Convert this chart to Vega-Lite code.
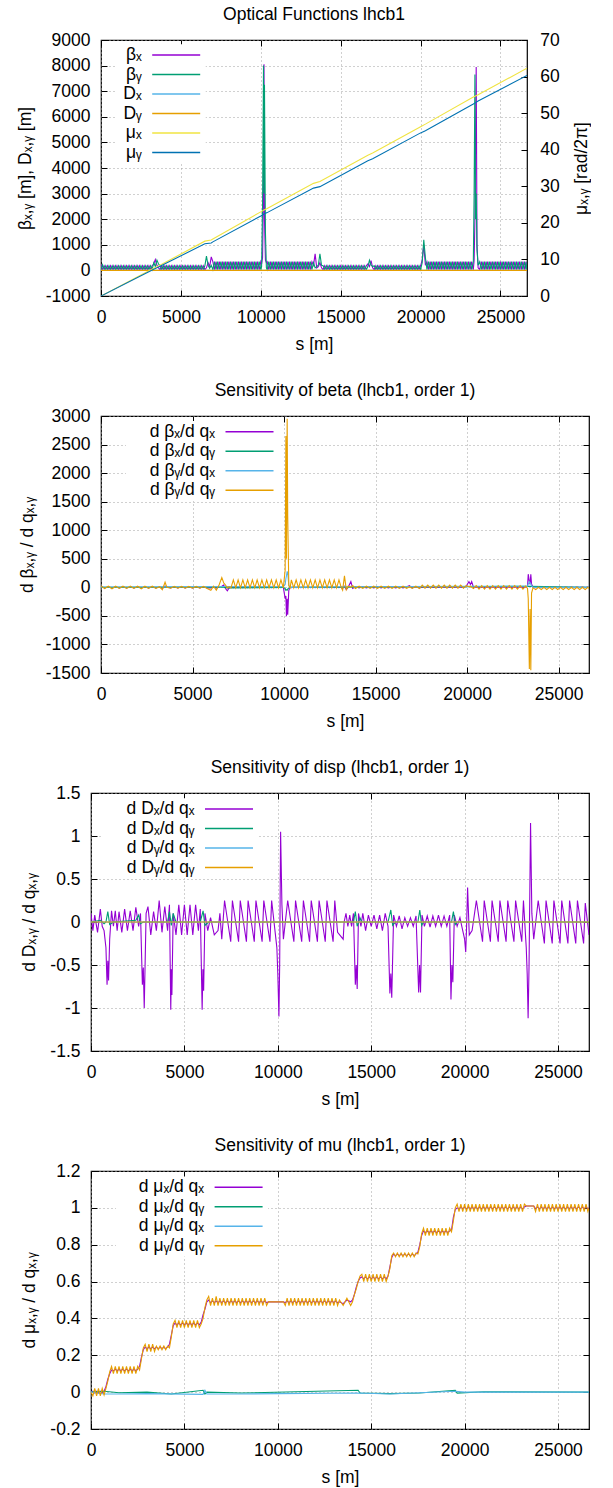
{
"$schema": "https://vega.github.io/schema/vega-lite/v6.json",
"background": "white",
"padding": {"left": 11, "top": 4, "right": 0, "bottom": 0},
"spacing": 26,
"config": {
  "font": "Liberation Sans",
  "view": {"stroke": "black", "strokeWidth": 1.2},
  "title": {"font": "Liberation Sans", "fontSize": 17.5, "fontWeight": "normal", "color": "#000", "frame": "group", "anchor": "middle", "offset": 8, "baseline": "alphabetic"},
  "axis": {"labelFont": "Liberation Sans", "labelFontSize": 17.5, "labelColor": "#000", "titleFont": "Liberation Sans", "titleFontSize": 17.5, "titleFontWeight": "normal", "titleColor": "#000", "domain": false, "ticks": true, "tickColor": "#000", "tickSize": -6, "tickWidth": 1, "labelPadding": 17, "grid": true, "gridColor": "#a0a0a0", "gridDash": [1, 3], "gridWidth": 1, "labelFlush": false, "labelOverlap": false, "labelExpr": "'' + datum.value"},
  "axisX": {"labelPadding": 18.4, "titlePadding": 10},
  "axisY": {"titlePadding": 11},
  "legend": {"title": null, "orient": "none", "symbolType": "M-8,0H8", "symbolSize": 36, "symbolStrokeWidth": 1.5, "labelAlign": "right", "labelOffset": -43.25, "labelFontSize": 17.5, "labelColor": "#000", "labelFont": "Liberation Sans", "fillColor": "white", "padding": 2, "rowPadding": 0.5, "labelLimit": 300}
},
"datasets": {
"p1b": [
{"s":0,"bx":230,"by":40,"dx":0,"dy":0},{"s":100,"bx":40,"by":220},{"s":200,"bx":180,"by":30},{"s":300,"bx":30,"by":180},{"s":400,"bx":180,"by":30},{"s":500,"bx":30,"by":180},{"s":600,"bx":180,"by":30},{"s":700,"bx":30,"by":180},{"s":800,"bx":180,"by":30},{"s":900,"bx":30,"by":180},{"s":1000,"bx":180,"by":30},{"s":1100,"bx":30,"by":180},{"s":1200,"bx":180,"by":30},{"s":1300,"bx":30,"by":180},{"s":1400,"bx":180,"by":30},{"s":1500,"bx":30,"by":180},{"s":1600,"bx":180,"by":30},{"s":1700,"bx":30,"by":180},{"s":1800,"bx":180,"by":30},{"s":1900,"bx":30,"by":180},{"s":2000,"bx":180,"by":30},{"s":2100,"bx":30,"by":180},{"s":2200,"bx":180,"by":30},{"s":2300,"bx":30,"by":180},{"s":2400,"bx":180,"by":30},{"s":2500,"bx":30,"by":180},{"s":2600,"bx":180,"by":30},{"s":2700,"bx":30,"by":180},{"s":2800,"bx":180,"by":30},{"s":2900,"bx":30,"by":180},{"s":3000,"bx":180,"by":30},{"s":3100,"bx":30,"by":180},{"s":3200,"bx":180,"by":30},
{"s":3300,"bx":250,"by":300},{"s":3400,"bx":420,"by":150},{"s":3500,"bx":200,"by":400},{"s":3600,"bx":100,"by":250},
{"s":3700,"bx":30,"by":180},{"s":3800,"bx":180,"by":30},{"s":3900,"bx":30,"by":180},{"s":4000,"bx":180,"by":30},{"s":4100,"bx":30,"by":180},{"s":4200,"bx":180,"by":30},{"s":4300,"bx":30,"by":180},{"s":4400,"bx":180,"by":30},{"s":4500,"bx":30,"by":180},{"s":4600,"bx":180,"by":30},{"s":4700,"bx":30,"by":180},{"s":4800,"bx":180,"by":30},{"s":4900,"bx":30,"by":180},{"s":5000,"bx":180,"by":30},{"s":5100,"bx":30,"by":180},{"s":5200,"bx":180,"by":30},{"s":5300,"bx":30,"by":180},{"s":5400,"bx":180,"by":30},{"s":5500,"bx":30,"by":180},{"s":5600,"bx":180,"by":30},{"s":5700,"bx":30,"by":180},{"s":5800,"bx":180,"by":30},{"s":5900,"bx":30,"by":180},{"s":6000,"bx":180,"by":30},{"s":6100,"bx":30,"by":180},{"s":6200,"bx":180,"by":30},{"s":6300,"bx":30,"by":180},{"s":6400,"bx":180,"by":30},{"s":6500,"bx":30,"by":180},
{"s":6600,"bx":100,"by":560},{"s":6700,"bx":300,"by":200},{"s":6800,"bx":150,"by":80},{"s":6900,"bx":530,"by":200},
{"s":7000,"bx":340,"by":30},{"s":7100,"bx":30,"by":340},{"s":7200,"bx":340,"by":30},{"s":7300,"bx":30,"by":340},{"s":7400,"bx":340,"by":30},{"s":7500,"bx":30,"by":340},{"s":7600,"bx":340,"by":30},{"s":7700,"bx":30,"by":340},{"s":7800,"bx":340,"by":30},{"s":7900,"bx":30,"by":340},{"s":8000,"bx":340,"by":30},{"s":8100,"bx":30,"by":340},{"s":8200,"bx":340,"by":30},{"s":8300,"bx":30,"by":340},{"s":8400,"bx":340,"by":30},{"s":8500,"bx":30,"by":340},{"s":8600,"bx":340,"by":30},{"s":8700,"bx":30,"by":340},{"s":8800,"bx":340,"by":30},{"s":8900,"bx":30,"by":340},{"s":9000,"bx":340,"by":30},{"s":9100,"bx":30,"by":340},{"s":9200,"bx":340,"by":30},{"s":9300,"bx":30,"by":340},{"s":9400,"bx":340,"by":30},{"s":9500,"bx":30,"by":340},{"s":9600,"bx":340,"by":30},{"s":9700,"bx":30,"by":340},{"s":9800,"bx":340,"by":30},{"s":9900,"bx":30,"by":340},{"s":10000,"bx":340,"by":30},
{"s":10050,"bx":250,"by":150},{"s":10110,"bx":500,"by":2500},{"s":10170,"bx":3000,"by":8000},{"s":10200,"bx":8050,"by":3000},{"s":10230,"bx":2000,"by":7250},{"s":10290,"bx":400,"by":1500},{"s":10350,"bx":300,"by":100},
{"s":10400,"bx":340,"by":30},{"s":10500,"bx":30,"by":340},{"s":10600,"bx":340,"by":30},{"s":10700,"bx":30,"by":340},{"s":10800,"bx":340,"by":30},{"s":10900,"bx":30,"by":340},{"s":11000,"bx":340,"by":30},{"s":11100,"bx":30,"by":340},{"s":11200,"bx":340,"by":30},{"s":11300,"bx":30,"by":340},{"s":11400,"bx":340,"by":30},{"s":11500,"bx":30,"by":340},{"s":11600,"bx":340,"by":30},{"s":11700,"bx":30,"by":340},{"s":11800,"bx":340,"by":30},{"s":11900,"bx":30,"by":340},{"s":12000,"bx":340,"by":30},{"s":12100,"bx":30,"by":340},{"s":12200,"bx":340,"by":30},{"s":12300,"bx":30,"by":340},{"s":12400,"bx":340,"by":30},{"s":12500,"bx":30,"by":340},{"s":12600,"bx":340,"by":30},{"s":12700,"bx":30,"by":340},{"s":12800,"bx":340,"by":30},{"s":12900,"bx":30,"by":340},{"s":13000,"bx":340,"by":30},{"s":13100,"bx":30,"by":340},{"s":13200,"bx":340,"by":30},
{"s":13300,"bx":200,"by":300},{"s":13400,"bx":650,"by":100},{"s":13500,"bx":100,"by":150},{"s":13600,"bx":150,"by":200},{"s":13700,"bx":300,"by":650},{"s":13800,"bx":100,"by":200},
{"s":13900,"bx":30,"by":180},{"s":14000,"bx":180,"by":30},{"s":14100,"bx":30,"by":180},{"s":14200,"bx":180,"by":30},{"s":14300,"bx":30,"by":180},{"s":14400,"bx":180,"by":30},{"s":14500,"bx":30,"by":180},{"s":14600,"bx":180,"by":30},{"s":14700,"bx":30,"by":180},{"s":14800,"bx":180,"by":30},{"s":14900,"bx":30,"by":180},{"s":15000,"bx":180,"by":30},{"s":15100,"bx":30,"by":180},{"s":15200,"bx":180,"by":30},{"s":15300,"bx":30,"by":180},{"s":15400,"bx":180,"by":30},{"s":15500,"bx":30,"by":180},{"s":15600,"bx":180,"by":30},{"s":15700,"bx":30,"by":180},{"s":15800,"bx":180,"by":30},{"s":15900,"bx":30,"by":180},{"s":16000,"bx":180,"by":30},{"s":16100,"bx":30,"by":180},{"s":16200,"bx":180,"by":30},{"s":16300,"bx":30,"by":180},{"s":16400,"bx":180,"by":30},{"s":16500,"bx":30,"by":180},{"s":16600,"bx":180,"by":30},
{"s":16700,"bx":250,"by":150},{"s":16800,"bx":150,"by":400},{"s":16900,"bx":380,"by":200},{"s":17000,"bx":100,"by":150},
{"s":17100,"bx":30,"by":180},{"s":17200,"bx":180,"by":30},{"s":17300,"bx":30,"by":180},{"s":17400,"bx":180,"by":30},{"s":17500,"bx":30,"by":180},{"s":17600,"bx":180,"by":30},{"s":17700,"bx":30,"by":180},{"s":17800,"bx":180,"by":30},{"s":17900,"bx":30,"by":180},{"s":18000,"bx":180,"by":30},{"s":18100,"bx":30,"by":180},{"s":18200,"bx":180,"by":30},{"s":18300,"bx":30,"by":180},{"s":18400,"bx":180,"by":30},{"s":18500,"bx":30,"by":180},{"s":18600,"bx":180,"by":30},{"s":18700,"bx":30,"by":180},{"s":18800,"bx":180,"by":30},{"s":18900,"bx":30,"by":180},{"s":19000,"bx":180,"by":30},{"s":19100,"bx":30,"by":180},{"s":19200,"bx":180,"by":30},{"s":19300,"bx":30,"by":180},{"s":19400,"bx":180,"by":30},{"s":19500,"bx":30,"by":180},{"s":19600,"bx":180,"by":30},{"s":19700,"bx":30,"by":180},{"s":19800,"bx":180,"by":30},{"s":19900,"bx":30,"by":180},{"s":20000,"bx":180,"by":30},
{"s":20100,"bx":400,"by":300},{"s":20200,"bx":1000,"by":1200},{"s":20300,"bx":200,"by":500},
{"s":20400,"bx":340,"by":30},{"s":20500,"bx":30,"by":340},{"s":20600,"bx":340,"by":30},{"s":20700,"bx":30,"by":340},{"s":20800,"bx":340,"by":30},{"s":20900,"bx":30,"by":340},{"s":21000,"bx":340,"by":30},{"s":21100,"bx":30,"by":340},{"s":21200,"bx":340,"by":30},{"s":21300,"bx":30,"by":340},{"s":21400,"bx":340,"by":30},{"s":21500,"bx":30,"by":340},{"s":21600,"bx":340,"by":30},{"s":21700,"bx":30,"by":340},{"s":21800,"bx":340,"by":30},{"s":21900,"bx":30,"by":340},{"s":22000,"bx":340,"by":30},{"s":22100,"bx":30,"by":340},{"s":22200,"bx":340,"by":30},{"s":22300,"bx":30,"by":340},{"s":22400,"bx":340,"by":30},{"s":22500,"bx":30,"by":340},{"s":22600,"bx":340,"by":30},{"s":22700,"bx":30,"by":340},{"s":22800,"bx":340,"by":30},{"s":22900,"bx":30,"by":340},{"s":23000,"bx":340,"by":30},{"s":23100,"bx":30,"by":340},{"s":23200,"bx":340,"by":30},{"s":23300,"bx":30,"by":340},
{"s":23350,"bx":400,"by":3000},{"s":23400,"bx":2000,"by":7650},{"s":23440,"bx":5000,"by":2000},{"s":23480,"bx":7950,"by":3000},{"s":23530,"bx":1000,"by":800},{"s":23600,"bx":100,"by":200},
{"s":23700,"bx":30,"by":340},{"s":23800,"bx":340,"by":30},{"s":23900,"bx":30,"by":340},{"s":24000,"bx":340,"by":30},{"s":24100,"bx":30,"by":340},{"s":24200,"bx":340,"by":30},{"s":24300,"bx":30,"by":340},{"s":24400,"bx":340,"by":30},{"s":24500,"bx":30,"by":340},{"s":24600,"bx":340,"by":30},{"s":24700,"bx":30,"by":340},{"s":24800,"bx":340,"by":30},{"s":24900,"bx":30,"by":340},{"s":25000,"bx":340,"by":30},{"s":25100,"bx":30,"by":340},{"s":25200,"bx":340,"by":30},{"s":25300,"bx":30,"by":340},{"s":25400,"bx":340,"by":30},{"s":25500,"bx":30,"by":340},{"s":25600,"bx":340,"by":30},{"s":25700,"bx":30,"by":340},{"s":25800,"bx":340,"by":30},{"s":25900,"bx":30,"by":340},{"s":26000,"bx":340,"by":30},{"s":26100,"bx":30,"by":340},{"s":26200,"bx":340,"by":30},{"s":26300,"bx":30,"by":340},{"s":26400,"bx":340,"by":30},{"s":26500,"bx":30,"by":340},{"s":26600,"bx":340,"by":30},{"s":26659,"bx":30,"by":340,"dx":0,"dy":0}
],
"p1m": [
{"s":0,"mx":0,"my":0},{"s":3300,"mx":7.6,"my":7.3},{"s":3600,"mx":8.2,"my":7.9},{"s":6500,"mx":15.0,"my":14.3},{"s":6900,"mx":15.3,"my":14.5},{"s":7000,"mx":15.6,"my":14.8},{"s":10000,"mx":23.0,"my":21.9},{"s":10200,"mx":23.5,"my":22.4},{"s":10400,"mx":23.9,"my":22.8},{"s":13300,"mx":30.8,"my":29.5},{"s":13700,"mx":31.3,"my":29.9},{"s":16700,"mx":38.5,"my":37.0},{"s":17000,"mx":39.1,"my":37.5},{"s":20000,"mx":46.3,"my":44.6},{"s":20300,"mx":47.0,"my":45.2},{"s":23300,"mx":54.4,"my":52.5},{"s":23600,"mx":55.0,"my":53.3},{"s":26659,"mx":62.31,"my":60.32}
],
"p2": [
{"s":0,"a":15,"b":0,"c":5,"d":25},{"s":200,"a":-10,"d":-20},{"s":400,"a":10,"d":20},{"s":600,"a":-10,"d":-25},{"s":800,"a":10,"d":20},{"s":1000,"a":-10,"d":-20},{"s":1200,"a":10,"d":20},{"s":1400,"a":-10,"d":-20},{"s":1600,"a":10,"d":20},{"s":1800,"a":-10,"d":-20},{"s":2000,"a":10,"d":20},{"s":2200,"a":-10,"d":-25},{"s":2400,"a":10,"d":20},{"s":2600,"a":-10,"d":-20},{"s":2800,"a":10,"d":20},{"s":3000,"a":-10,"d":-20},{"s":3200,"a":10,"d":10},{"s":3350,"a":-20,"d":-40},{"s":3500,"a":20,"c":10,"d":90},{"s":3600,"a":10,"d":0},{"s":3800,"a":-10,"d":-15},{"s":4000,"a":10,"d":15},{"s":4200,"a":-10,"d":-15},{"s":4400,"a":10,"d":15},{"s":4600,"a":-10,"d":-15},{"s":4800,"a":10,"d":15},{"s":5000,"a":-10,"d":-15},{"s":5200,"a":10,"d":15},{"s":5400,"a":-10,"d":-15},{"s":5600,"a":10,"d":15},{"s":5800,"a":-10,"d":-20},{"s":6000,"a":-10,"d":-50},{"s":6150,"a":10,"d":20},{"s":6300,"a":-15,"d":-50},{"s":6450,"a":10,"d":40},{"s":6600,"a":20,"b":5,"c":15,"d":170},{"s":6700,"a":40,"d":80},{"s":6800,"a":-20,"d":40},{"s":6900,"a":-60,"b":-10,"d":-10},{"s":7000,"a":-10,"d":10},
{"s":7100,"a":5,"d":-10},{"s":7230,"a":-5,"d":130},{"s":7360,"a":5,"d":-10},{"s":7490,"a":-5,"d":130},{"s":7620,"a":5,"d":-10},{"s":7750,"a":-5,"d":130},{"s":7880,"a":5,"d":-10},{"s":8010,"a":-5,"d":130},{"s":8140,"a":5,"d":-10},{"s":8270,"a":-5,"d":130},{"s":8400,"a":5,"d":-10},{"s":8530,"a":-5,"d":130},{"s":8660,"a":5,"d":-10},{"s":8790,"a":-5,"d":130},{"s":8920,"a":5,"d":-10},{"s":9050,"a":-5,"d":130},{"s":9180,"a":5,"d":-10},{"s":9310,"a":-5,"d":130},{"s":9440,"a":5,"d":-10},{"s":9570,"a":-5,"d":130},{"s":9700,"a":5,"d":-10},{"s":9830,"a":-5,"d":130},{"s":9960,"a":5,"b":0,"c":10,"d":-10},
{"s":10060,"a":-200,"b":-20,"c":50,"d":300},{"s":10100,"a":-150,"b":-50,"c":150,"d":2650},{"s":10130,"a":-500,"b":-40,"c":200,"d":500},{"s":10170,"a":-200,"b":-50,"c":280,"d":2950},{"s":10200,"a":-480,"b":-30,"c":250,"d":1250},{"s":10260,"a":-50,"b":-10,"c":30,"d":30},{"s":10330,"a":0,"b":0,"c":0,"d":-10},
{"s":10400,"a":-5,"d":130},{"s":10530,"a":5,"d":-10},{"s":10660,"a":-5,"d":130},{"s":10790,"a":5,"d":-10},{"s":10920,"a":-5,"d":130},{"s":11050,"a":5,"d":-10},{"s":11180,"a":-5,"d":130},{"s":11310,"a":5,"d":-10},{"s":11440,"a":-5,"d":130},{"s":11570,"a":5,"d":-10},{"s":11700,"a":-5,"d":130},{"s":11830,"a":5,"d":-10},{"s":11960,"a":-5,"d":130},{"s":12090,"a":5,"d":-10},{"s":12220,"a":-5,"d":130},{"s":12350,"a":5,"d":-10},{"s":12480,"a":-5,"d":130},{"s":12610,"a":5,"d":-10},{"s":12740,"a":-5,"d":130},{"s":12870,"a":5,"d":-10},{"s":13000,"a":-5,"d":130},{"s":13130,"a":5,"d":-10},
{"s":13200,"a":-20,"d":-50},{"s":13300,"a":20,"c":10,"d":200},{"s":13400,"a":-40,"d":-40},{"s":13500,"a":0,"d":20},{"s":13650,"a":100,"d":0},{"s":13750,"a":-20,"d":30},{"s":13900,"a":10,"d":-20},
{"s":14100,"a":-10,"d":20},{"s":14300,"a":10,"d":-20},{"s":14500,"a":-10,"d":20},{"s":14700,"a":10,"d":-20},{"s":14900,"a":-10,"d":20},{"s":15100,"a":10,"d":-20},{"s":15300,"a":-10,"d":20},{"s":15500,"a":10,"d":-20},{"s":15700,"a":-10,"d":20},{"s":15900,"a":10,"d":-20},{"s":16100,"a":-10,"d":20},{"s":16300,"a":10,"d":-20},{"s":16500,"a":-10,"d":20},{"s":16700,"a":10,"d":-20},{"s":16850,"a":30,"d":10},{"s":17000,"a":-10,"d":-20},{"s":17200,"a":10,"d":20},{"s":17400,"a":-10,"d":-20},
{"s":17550,"a":5,"d":40},{"s":17700,"a":-5,"d":-15},{"s":17850,"a":5,"d":40},{"s":18000,"a":-5,"d":-15},{"s":18150,"a":5,"d":40},{"s":18300,"a":-5,"d":-15},{"s":18450,"a":5,"d":40},{"s":18600,"a":-5,"d":-15},{"s":18750,"a":5,"d":40},{"s":18900,"a":-5,"d":-15},{"s":19050,"a":5,"d":40},{"s":19200,"a":-5,"d":-15},{"s":19350,"a":5,"d":40},{"s":19500,"a":-5,"d":-15},{"s":19650,"a":5,"d":40},{"s":19800,"a":-5,"d":-15},{"s":19950,"a":20,"d":30},
{"s":20100,"a":100,"b":10,"c":20,"d":10},{"s":20180,"a":50,"d":20},{"s":20250,"a":100,"d":0},{"s":20350,"a":0,"d":-20},
{"s":20500,"a":5,"d":30},{"s":20650,"a":-5,"d":-30},{"s":20800,"a":5,"d":30},{"s":20950,"a":-5,"d":-30},{"s":21100,"a":5,"d":30},{"s":21250,"a":-5,"d":-30},{"s":21400,"a":5,"d":30},{"s":21550,"a":-5,"d":-30},{"s":21700,"a":5,"d":30},{"s":21850,"a":-5,"d":-30},{"s":22000,"a":5,"d":30},{"s":22150,"a":-5,"d":-30},{"s":22300,"a":5,"d":30},{"s":22450,"a":-5,"d":-30},{"s":22600,"a":5,"d":30},{"s":22750,"a":-5,"d":-30},{"s":22900,"a":5,"d":30},{"s":23050,"a":-5,"d":-30},{"s":23200,"a":5,"d":20},
{"s":23300,"a":20,"c":20,"d":-20},{"s":23340,"a":230,"c":60,"d":-200},{"s":23400,"a":100,"b":20,"c":100,"d":-1430},{"s":23440,"a":50,"c":80,"d":-380},{"s":23480,"a":230,"c":60,"d":-1450},{"s":23520,"a":60,"c":30,"d":-100},{"s":23600,"a":0,"c":0,"d":-10},
{"s":23750,"a":-5,"d":-40},{"s":23900,"a":5,"d":0},{"s":24050,"a":-5,"d":-40},{"s":24200,"a":5,"d":0},{"s":24350,"a":-5,"d":-40},{"s":24500,"a":5,"d":0},{"s":24650,"a":-5,"d":-40},{"s":24800,"a":5,"d":0},{"s":24950,"a":-5,"d":-40},{"s":25100,"a":5,"d":0},{"s":25250,"a":-5,"d":-40},{"s":25400,"a":5,"d":0},{"s":25550,"a":-5,"d":-40},{"s":25700,"a":5,"d":0},{"s":25850,"a":-5,"d":-40},{"s":26000,"a":5,"d":0},{"s":26150,"a":-5,"d":-40},{"s":26300,"a":5,"d":0},{"s":26450,"a":-5,"d":-40},{"s":26600,"a":5,"d":0},{"s":26659,"a":0,"b":0,"c":0,"d":-20}
],
"p3": [
{"s":0,"a":0.1,"b":0,"c":0,"d":0},{"s":100,"a":-0.1},{"s":200,"a":0.08},{"s":350,"a":-0.12},{"s":500,"a":0.15,"b":0.02},{"s":600,"a":-0.05},{"s":700,"a":-0.1,"b":-0.02},{"s":800,"a":-0.3,"b":0},{"s":860,"a":-0.73},{"s":900,"a":-0.45,"b":0.12},{"s":940,"a":-0.68},{"s":1000,"a":-0.2,"b":-0.03},{"s":1100,"a":0.13},{"s":1200,"a":-0.05,"b":0},{"s":1300,"a":0.13},{"s":1400,"a":-0.1},{"s":1500,"a":0.12},{"s":1650,"a":-0.12},{"s":1800,"a":0.15},{"s":1950,"a":-0.1},{"s":2100,"a":0.13},{"s":2250,"a":-0.1},{"s":2400,"a":0.17,"b":0.02},{"s":2550,"a":-0.05,"b":0.08},{"s":2650,"a":0.1,"b":-0.02},{"s":2750,"a":-0.73},{"s":2800,"a":-0.53,"b":0},{"s":2850,"a":-1.0},{"s":2950,"a":0.1},{"s":3050,"a":0.18},{"s":3200,"a":-0.15},{"s":3350,"a":0.12},{"s":3500,"a":-0.1},{"s":3650,"a":0.25},{"s":3800,"a":-0.12},{"s":3950,"a":0.18},{"s":4100,"a":-0.1,"b":0},{"s":4200,"a":0.2,"b":0.12},{"s":4270,"a":-1.02},{"s":4300,"a":-0.55,"b":-0.04},{"s":4330,"a":-0.85},{"s":4400,"a":0.1,"b":0.1},{"s":4550,"a":-0.15,"b":0},{"s":4700,"a":0.2},{"s":4850,"a":-0.15},{"s":5000,"a":0.2},{"s":5150,"a":-0.15},{"s":5300,"a":0.2},{"s":5450,"a":-0.15},{"s":5600,"a":0.2},{"s":5750,"a":-0.1},{"s":5850,"a":0.15,"b":0},{"s":5950,"a":-1.02},{"s":5990,"a":-0.55},{"s":6000,"b":0.13},{"s":6030,"a":-0.8},{"s":6100,"a":0.1,"b":-0.04},{"s":6250,"a":-0.1},{"s":6300,"b":0},{"s":6400,"a":0.05},{"s":6600,"a":-0.15},{"s":6800,"a":-0.1},{"s":6900,"a":0.1},{"s":7000,"a":-0.2},
{"s":7150,"a":0.25},{"s":7480,"a":-0.23},{"s":7570,"a":0.25},{"s":7900,"a":-0.23},{"s":7990,"a":0.25},{"s":8320,"a":-0.23},{"s":8410,"a":0.25},{"s":8740,"a":-0.23},{"s":8830,"a":0.25},{"s":9160,"a":-0.23},{"s":9250,"a":0.25},{"s":9580,"a":-0.23},{"s":9670,"a":0.25},{"s":9950,"a":-0.3},{"s":10000,"a":-0.6},{"s":10060,"a":-1.1},{"s":10100,"a":-0.5},{"s":10150,"a":1.05},{"s":10220,"a":0.2},{"s":10300,"a":-0.2},
{"s":10530,"a":0.25},{"s":10860,"a":-0.23},{"s":10950,"a":0.25},{"s":11280,"a":-0.23},{"s":11370,"a":0.25},{"s":11700,"a":-0.23},{"s":11790,"a":0.25},{"s":12120,"a":-0.23},{"s":12210,"a":0.25},{"s":12540,"a":-0.23},{"s":12630,"a":0.25},{"s":12960,"a":-0.23},{"s":13050,"a":0.25},{"s":13200,"a":-0.12},{"s":13500,"a":-0.2},{"s":13550,"a":0},{"s":13650,"a":0.1},{"s":13750,"a":-0.05},{"s":13850,"a":0.08},{"s":13950,"a":-0.05},{"s":14050,"a":0.1,"b":0},{"s":14150,"a":-0.73,"b":0.12},{"s":14200,"a":-0.5},{"s":14250,"a":-0.78,"b":-0.05},{"s":14320,"a":0.1},{"s":14400,"b":0.05},{"s":14450,"a":-0.05},{"s":14500,"b":0},{"s":14550,"a":0.1},{"s":14700,"a":-0.1},{"s":14850,"a":0.08},{"s":15000,"a":-0.05},{"s":15150,"a":0.08},{"s":15300,"a":-0.08},{"s":15450,"a":0.08},{"s":15600,"a":-0.1},{"s":15750,"a":0.1},{"s":15900,"a":-0.05,"b":0},{"s":16000,"a":-0.83},{"s":16050,"a":-0.6,"b":0.14},{"s":16100,"a":-0.88},{"s":16150,"b":-0.04},{"s":16200,"a":0.08},{"s":16300,"b":0},{"s":16350,"a":-0.05},{"s":16500,"a":0.07},{"s":16650,"a":-0.08},{"s":16800,"a":0.05},{"s":16950,"a":-0.05},{"s":17100,"a":0.05},{"s":17250,"a":-0.05},{"s":17400,"a":0.07},{"s":17500,"b":0},{"s":17540,"a":-0.82},{"s":17590,"a":-0.5},{"s":17600,"b":0.14},{"s":17640,"a":-0.82},{"s":17700,"b":-0.04},{"s":17720,"a":0.08},{"s":17800,"b":0},{"s":17850,"a":-0.05},{"s":18000,"a":0.07},{"s":18150,"a":-0.06},{"s":18300,"a":0.07},{"s":18450,"a":-0.05},{"s":18600,"a":0.08},{"s":18750,"a":-0.05},{"s":18900,"a":0.07},{"s":19050,"a":-0.05},{"s":19200,"a":0.08},{"s":19270,"a":-0.9},{"s":19300,"b":0},{"s":19320,"a":-0.5},{"s":19370,"a":-0.7},{"s":19400,"b":0.12},{"s":19450,"a":0.08},{"s":19500,"b":-0.03},{"s":19600,"a":-0.05,"b":0},{"s":19750,"a":0.05},{"s":19900,"a":-0.1},{"s":20000,"a":-0.2},{"s":20060,"a":-0.35},{"s":20100,"a":-0.1},{"s":20160,"a":0.4},{"s":20250,"a":-0.15},{"s":20400,"a":-0.1},
{"s":20630,"a":0.25},{"s":20960,"a":-0.23},{"s":21050,"a":0.25},{"s":21380,"a":-0.23},{"s":21470,"a":0.25},{"s":21800,"a":-0.23},{"s":21890,"a":0.25},{"s":22220,"a":-0.23},{"s":22310,"a":0.25},{"s":22640,"a":-0.23},{"s":22730,"a":0.25},{"s":23060,"a":-0.23},{"s":23150,"a":0.25},{"s":23300,"a":-0.3},{"s":23350,"a":-0.6},{"s":23400,"a":-1.12},{"s":23450,"a":-0.5},{"s":23530,"a":1.15},{"s":23600,"a":0.1},{"s":23700,"a":-0.2},
{"s":23940,"a":0.25},{"s":24270,"a":-0.25},{"s":24360,"a":0.25},{"s":24690,"a":-0.25},{"s":24780,"a":0.25},{"s":25110,"a":-0.25},{"s":25200,"a":0.25},{"s":25530,"a":-0.25},{"s":25620,"a":0.25},{"s":25950,"a":-0.25},{"s":26040,"a":0.25},{"s":26370,"a":-0.25},{"s":26460,"a":0.22},{"s":26659,"a":-0.15,"b":0,"c":0,"d":0}
],
"p4": [
{"s":0,"a":0,"b":0,"c":0,"d":0},{"s":100,"a":0.005,"d":-0.02},{"s":200,"a":-0.005,"d":0.02},{"s":300,"a":0.005,"d":-0.02},{"s":400,"a":-0.005,"d":0.02},{"s":500,"a":0.005,"d":-0.02},{"s":600,"a":-0.005,"d":0.02},{"s":700,"a":0.005,"b":0.005,"c":-0.01,"d":-0.015},{"s":800,"a":0.03,"d":0.02},{"s":900,"a":0.07,"d":0.06},{"s":1000,"a":0.1,"d":0.11},{"s":1100,"a":0.12,"d":0.14},{"s":1200,"a":0.115,"d":0.1},{"s":1300,"a":0.125,"d":0.14},{"s":1400,"a":0.115,"d":0.1},{"s":1500,"a":0.125,"b":-0.003,"c":-0.01,"d":0.14},{"s":1600,"a":0.115,"d":0.1},{"s":1700,"a":0.125,"d":0.14},{"s":1800,"a":0.115,"d":0.1},{"s":1900,"a":0.125,"d":0.14},{"s":2000,"a":0.115,"d":0.1},{"s":2100,"a":0.125,"d":0.14},{"s":2200,"a":0.115,"d":0.1},{"s":2300,"a":0.125,"d":0.14},{"s":2400,"a":0.115,"d":0.1},{"s":2500,"a":0.125,"d":0.14},{"s":2600,"a":0.14,"d":0.12},{"s":2700,"a":0.19,"d":0.18},{"s":2800,"a":0.23,"d":0.24},{"s":2900,"a":0.245,"d":0.26},{"s":3000,"a":0.235,"b":0,"c":-0.008,"d":0.22},{"s":3100,"a":0.245,"d":0.26},{"s":3200,"a":0.235,"d":0.22},{"s":3300,"a":0.245,"d":0.26},{"s":3400,"a":0.235,"d":0.22},{"s":3500,"a":0.245,"d":0.25},{"s":3600,"a":0.235,"d":0.23},{"s":3700,"a":0.245,"d":0.25},{"s":3800,"a":0.235,"d":0.23},{"s":3900,"a":0.245,"d":0.25},{"s":4000,"a":0.235,"d":0.23},{"s":4100,"a":0.245,"d":0.25},{"s":4200,"a":0.26,"d":0.24},{"s":4300,"a":0.31,"b":-0.01,"d":0.3},{"s":4400,"a":0.36,"d":0.37},{"s":4500,"a":0.375,"d":0.39},{"s":4600,"a":0.365,"d":0.35},{"s":4700,"a":0.375,"d":0.39},{"s":4800,"a":0.365,"d":0.35},{"s":4900,"a":0.375,"d":0.39},{"s":5000,"a":0.365,"d":0.35},{"s":5100,"a":0.375,"d":0.39},{"s":5200,"a":0.365,"d":0.35},{"s":5300,"a":0.375,"d":0.39},{"s":5400,"a":0.365,"d":0.35},{"s":5500,"a":0.375,"d":0.39},{"s":5600,"a":0.365,"d":0.35},{"s":5700,"a":0.375,"d":0.39},{"s":5800,"a":0.365,"d":0.35},{"s":5900,"a":0.38,"d":0.37},{"s":6000,"a":0.42,"b":0.01,"c":-0.012,"d":0.4},{"s":6100,"a":0.45,"b":-0.01,"c":0.01,"d":0.46},{"s":6200,"a":0.49,"b":0,"c":-0.01,"d":0.5},{"s":6300,"a":0.5,"d":0.52},
{"s":6400,"a":0.485,"d":0.47},{"s":6500,"a":0.495,"d":0.51},{"s":6600,"a":0.485,"d":0.47},{"s":6700,"a":0.495,"d":0.52},{"s":6800,"a":0.485,"d":0.47},{"s":6900,"a":0.495,"d":0.51},{"s":7000,"a":0.485,"d":0.47},{"s":7100,"a":0.495,"d":0.51},{"s":7200,"a":0.485,"d":0.47},{"s":7300,"a":0.495,"d":0.51},{"s":7400,"a":0.485,"d":0.47},{"s":7500,"a":0.495,"d":0.51},{"s":7600,"a":0.485,"d":0.47},{"s":7700,"a":0.495,"d":0.51},{"s":7800,"a":0.485,"d":0.47},{"s":7900,"a":0.495,"d":0.51},{"s":8000,"a":0.485,"b":-0.005,"c":-0.01,"d":0.47},{"s":8100,"a":0.495,"d":0.51},{"s":8200,"a":0.485,"d":0.47},{"s":8300,"a":0.495,"d":0.51},{"s":8400,"a":0.485,"d":0.47},{"s":8500,"a":0.495,"d":0.51},{"s":8600,"a":0.485,"d":0.47},{"s":8700,"a":0.495,"d":0.51},{"s":8800,"a":0.485,"d":0.47},{"s":8900,"a":0.495,"d":0.51},{"s":9000,"a":0.485,"d":0.47},{"s":9100,"a":0.495,"d":0.51},{"s":9200,"a":0.485,"d":0.47},{"s":9300,"a":0.495,"d":0.51},{"s":9400,"a":0.485,"d":0.47},{"s":9500,"a":0.49,"d":0.49},{"s":10000,"a":0.49,"c":-0.008,"d":0.49},{"s":10300,"a":0.49,"d":0.49},
{"s":10400,"a":0.485,"d":0.47},{"s":10500,"a":0.495,"d":0.51},{"s":10600,"a":0.485,"d":0.47},{"s":10700,"a":0.495,"d":0.51},{"s":10800,"a":0.485,"d":0.47},{"s":10900,"a":0.495,"d":0.51},{"s":11000,"a":0.485,"d":0.47},{"s":11100,"a":0.495,"d":0.51},{"s":11200,"a":0.485,"d":0.47},{"s":11300,"a":0.495,"d":0.51},{"s":11400,"a":0.485,"d":0.47},{"s":11500,"a":0.495,"d":0.51},{"s":11600,"a":0.485,"d":0.47},{"s":11700,"a":0.495,"d":0.51},{"s":11800,"a":0.485,"d":0.47},{"s":11900,"a":0.495,"d":0.51},{"s":12000,"a":0.485,"d":0.47},{"s":12100,"a":0.495,"d":0.51},{"s":12200,"a":0.485,"d":0.47},{"s":12300,"a":0.495,"d":0.51},{"s":12400,"a":0.485,"d":0.47},{"s":12500,"a":0.495,"d":0.51},{"s":12600,"a":0.485,"d":0.47},{"s":12700,"a":0.495,"d":0.51},{"s":12800,"a":0.485,"d":0.47},{"s":12900,"a":0.495,"d":0.51},{"s":13000,"a":0.485,"d":0.47},{"s":13100,"a":0.495,"d":0.51},{"s":13200,"a":0.485,"d":0.47},{"s":13300,"a":0.49,"d":0.5},{"s":13500,"a":0.48,"d":0.47},{"s":13700,"a":0.5,"d":0.51},{"s":13900,"a":0.49,"d":0.47},{"s":14000,"a":0.5,"d":0.49},{"s":14100,"a":0.53,"d":0.53},{"s":14200,"a":0.57,"d":0.56},{"s":14300,"a":0.6,"b":0.01,"c":-0.005,"d":0.6},{"s":14400,"a":0.62,"b":-0.005,"d":0.63},{"s":14500,"a":0.625,"d":0.64},{"s":14600,"a":0.615,"d":0.6},{"s":14700,"a":0.625,"d":0.64},{"s":14800,"a":0.615,"d":0.6},{"s":14900,"a":0.625,"d":0.64},{"s":15000,"a":0.615,"d":0.6},{"s":15100,"a":0.625,"d":0.64},{"s":15200,"a":0.615,"d":0.6},{"s":15300,"a":0.625,"d":0.64},{"s":15400,"a":0.615,"d":0.6},{"s":15500,"a":0.625,"d":0.64},{"s":15600,"a":0.615,"d":0.6},{"s":15700,"a":0.625,"d":0.64},{"s":15800,"a":0.615,"d":0.6},{"s":15900,"a":0.63,"d":0.63},{"s":16000,"a":0.68,"b":-0.008,"c":-0.01,"d":0.67},{"s":16100,"a":0.73,"d":0.74},{"s":16200,"a":0.75,"d":0.755},{"s":16300,"a":0.74,"d":0.735},{"s":16400,"a":0.75,"d":0.755},{"s":16500,"a":0.74,"d":0.735},{"s":16600,"a":0.75,"d":0.755},{"s":16700,"a":0.74,"d":0.735},{"s":16800,"a":0.75,"d":0.755},{"s":16900,"a":0.74,"d":0.735},{"s":17000,"a":0.75,"d":0.755},{"s":17100,"a":0.74,"d":0.735},{"s":17200,"a":0.75,"d":0.755},{"s":17300,"a":0.74,"d":0.735},{"s":17400,"a":0.75,"d":0.755},{"s":17500,"a":0.76,"d":0.75},{"s":17600,"a":0.8,"b":-0.005,"d":0.79},{"s":17700,"a":0.85,"d":0.86},{"s":17800,"a":0.875,"d":0.89},{"s":17900,"a":0.865,"d":0.85},{"s":18000,"a":0.875,"d":0.89},{"s":18100,"a":0.865,"d":0.85},{"s":18200,"a":0.875,"d":0.89},{"s":18300,"a":0.865,"d":0.85},{"s":18400,"a":0.875,"d":0.89},{"s":18500,"a":0.865,"d":0.85},{"s":18600,"a":0.875,"d":0.89},{"s":18700,"a":0.865,"d":0.85},{"s":18800,"a":0.875,"d":0.89},{"s":18900,"a":0.865,"d":0.85},{"s":19000,"a":0.875,"d":0.89},{"s":19100,"a":0.865,"d":0.85},{"s":19200,"a":0.875,"d":0.89},{"s":19300,"a":0.88,"d":0.87},{"s":19400,"a":0.95,"d":0.93},{"s":19500,"a":0.99,"b":0.01,"c":0.005,"d":1.0},{"s":19600,"a":1.0,"b":-0.005,"d":1.02},
{"s":19700,"a":0.995,"d":0.98},{"s":19800,"a":1.005,"d":1.02},{"s":19900,"a":0.995,"d":0.98},{"s":20000,"a":1.005,"c":0,"d":1.02},{"s":20100,"a":0.995,"d":0.98},{"s":20200,"a":1.005,"d":1.02},{"s":20300,"a":0.995,"d":0.98},{"s":20400,"a":1.005,"d":1.02},{"s":20500,"a":0.995,"d":0.98},{"s":20600,"a":1.005,"d":1.02},{"s":20700,"a":0.995,"d":0.98},{"s":20800,"a":1.005,"d":1.02},{"s":20900,"a":0.995,"d":0.98},{"s":21000,"a":1.005,"b":0.002,"d":1.02},{"s":21100,"a":0.995,"d":0.98},{"s":21200,"a":1.005,"d":1.02},{"s":21300,"a":0.995,"d":0.98},{"s":21400,"a":1.005,"d":1.02},{"s":21500,"a":0.995,"d":0.98},{"s":21600,"a":1.005,"d":1.02},{"s":21700,"a":0.995,"d":0.98},{"s":21800,"a":1.005,"d":1.02},{"s":21900,"a":0.995,"d":0.98},{"s":22000,"a":1.005,"d":1.02},{"s":22100,"a":0.995,"d":0.98},{"s":22200,"a":1.005,"d":1.02},{"s":22300,"a":0.995,"d":0.98},{"s":22400,"a":1.005,"d":1.02},{"s":22500,"a":0.995,"d":0.98},{"s":22600,"a":1.005,"d":1.02},{"s":22700,"a":0.995,"d":0.98},{"s":22800,"a":1.005,"d":1.02},{"s":22900,"a":0.995,"d":0.98},{"s":23000,"a":1.005,"d":1.02},{"s":23100,"a":0.995,"d":0.98},{"s":23200,"a":1.005,"d":1.02},{"s":23300,"a":1.01,"d":1.01},{"s":23700,"a":1.01,"d":1.01},{"s":23800,"a":0.995,"d":0.98},{"s":23900,"a":1.005,"d":1.02},{"s":24000,"a":0.995,"d":0.98},{"s":24100,"a":1.005,"d":1.02},{"s":24200,"a":0.995,"d":0.98},{"s":24300,"a":1.005,"d":1.02},{"s":24400,"a":0.995,"d":0.98},{"s":24500,"a":1.005,"d":1.02},{"s":24600,"a":0.995,"d":0.98},{"s":24700,"a":1.005,"d":1.02},{"s":24800,"a":0.995,"d":0.98},{"s":24900,"a":1.005,"d":1.02},{"s":25000,"a":0.995,"d":0.98},{"s":25100,"a":1.005,"d":1.02},{"s":25200,"a":0.995,"d":0.98},{"s":25300,"a":1.005,"d":1.02},{"s":25400,"a":0.995,"d":0.98},{"s":25500,"a":1.005,"d":1.02},{"s":25600,"a":0.995,"d":0.98},{"s":25700,"a":1.005,"d":1.02},{"s":25800,"a":0.995,"d":0.98},{"s":25900,"a":1.005,"d":1.02},{"s":26000,"a":0.995,"d":0.98},{"s":26100,"a":1.005,"d":1.02},{"s":26200,"a":0.995,"d":0.98},{"s":26300,"a":1.005,"d":1.02},{"s":26400,"a":0.995,"d":0.98},{"s":26500,"a":1.005,"d":1.02},{"s":26600,"a":0.995,"d":0.98},{"s":26659,"a":1.0,"b":0,"c":0,"d":1.0}
]
},
"vconcat": [
{"spacing": 0, "resolve": {"scale": {"color": "independent"}, "legend": {"color": "independent"}}, "hconcat": [
{"width": 4, "height": 1, "data": {"values": []}, "mark": {"type": "point"}, "view": {"stroke": null}},
{
  "width": 426, "height": 256,
  "title": {"text": "Optical Functions lhcb1"},
  "layer": [
    {
      "data": {"name": "p1b"},
      "transform": [{"fold": ["bx", "by", "dx", "dy"], "as": ["k", "v"]}, {"filter": "isValid(datum.v)"}],
      "mark": {"type": "line", "strokeWidth": 1.1, "clip": true},
      "encoding": {
        "x": {"field": "s", "type": "quantitative", "scale": {"domain": [0, 26659], "nice": false, "zero": false}, "axis": {"values": [0, 5000, 10000, 15000, 20000, 25000], "title": "s [m]"}},
        "y": {"field": "v", "type": "quantitative", "scale": {"domain": [-1000, 9000], "nice": false, "zero": false}, "axis": {"values": [-1000, 0, 1000, 2000, 3000, 4000, 5000, 6000, 7000, 8000, 9000], "title": "βₓ,ᵧ [m], Dₓ,ᵧ [m]", "titlePadding": 11}},
        "color": {"field": "k", "type": "nominal", "scale": {"domain": ["bx", "by", "dx", "dy", "mx", "my"], "range": ["#9400D3", "#009E73", "#56B4E9", "#E69F00", "#F0E442", "#0072B2"]},
          "legend": {"legendX": 14.7, "legendY": 4.25, "symbolOffset": 49.75, "labelExpr": "datum.label == 'bx' ? 'βₓ' : datum.label == 'by' ? 'βᵧ' : datum.label == 'dx' ? 'Dₓ' : datum.label == 'dy' ? 'Dᵧ' : datum.label == 'mx' ? 'μₓ' : 'μᵧ'"}}
      }
    },
    {
      "data": {"name": "p1m"},
      "transform": [{"fold": ["mx", "my"], "as": ["k", "v"]}],
      "mark": {"type": "line", "strokeWidth": 1.1, "clip": true},
      "encoding": {
        "x": {"field": "s", "type": "quantitative", "scale": {"domain": [0, 26659], "nice": false, "zero": false}, "axis": {"orient": "top", "values": [0, 5000, 10000, 15000, 20000, 25000], "labels": false, "title": null, "grid": false}},
        "y": {"field": "v", "type": "quantitative", "scale": {"domain": [0, 70], "nice": false, "zero": false}, "axis": {"orient": "right", "values": [0, 10, 20, 30, 40, 50, 60, 70], "grid": false, "title": "μₓ,ᵧ [rad/2π]", "titleAngle": -90, "titleBaseline": "top", "labelPadding": 18.7, "titlePadding": 13}},
        "color": {"field": "k", "type": "nominal"}
      }
    }
  ],
  "resolve": {"scale": {"y": "independent"}, "axis": {"x": "independent", "y": "independent"}}
}]},
{"spacing": 0, "resolve": {"scale": {"color": "independent"}, "legend": {"color": "independent"}}, "hconcat": [
{"width": 6, "height": 1, "data": {"values": []}, "mark": {"type": "point"}, "view": {"stroke": null}},
{
  "width": 488, "height": 257,
  "title": {"text": "Sensitivity of beta (lhcb1, order 1)"},
  "layer": [
    {
      "data": {"name": "p2"},
      "transform": [{"fold": ["a", "b", "c", "d"], "as": ["k", "v"]}, {"filter": "isValid(datum.v)"}],
      "mark": {"type": "line", "strokeWidth": 1.1, "clip": true},
      "encoding": {
        "x": {"field": "s", "type": "quantitative", "scale": {"domain": [0, 26659], "nice": false, "zero": false}, "axis": {"values": [0, 5000, 10000, 15000, 20000, 25000], "title": "s [m]"}},
        "y": {"field": "v", "type": "quantitative", "scale": {"domain": [-1500, 3000], "nice": false, "zero": false}, "axis": {"values": [-1500, -1000, -500, 0, 500, 1000, 1500, 2000, 2500, 3000], "title": "d βₓ,ᵧ / d qₓ,ᵧ", "titlePadding": 9}},
        "color": {"field": "k", "type": "nominal", "scale": {"domain": ["a", "b", "c", "d"], "range": ["#9400D3", "#009E73", "#56B4E9", "#E69F00"]},
          "legend": {"legendX": 25, "legendY": 5, "symbolOffset": 112.75, "labelExpr": "datum.label == 'a' ? 'd βₓ/d qₓ' : datum.label == 'b' ? 'd βₓ/d qᵧ' : datum.label == 'c' ? 'd βᵧ/d qₓ' : 'd βᵧ/d qᵧ'"}}
      }
    },
    {
      "data": {"values": [{"s": 0, "v": 0}]},
      "mark": {"type": "point", "opacity": 0},
      "encoding": {
        "x": {"field": "s", "type": "quantitative", "scale": {"domain": [0, 26659], "nice": false, "zero": false}, "axis": {"orient": "top", "values": [0, 5000, 10000, 15000, 20000, 25000], "labels": false, "title": null, "grid": false}},
        "y": {"field": "v", "type": "quantitative", "scale": {"domain": [-1500, 3000], "nice": false, "zero": false}, "axis": {"orient": "right", "values": [-1500, -1000, -500, 0, 500, 1000, 1500, 2000, 2500, 3000], "labels": false, "title": null, "grid": false}}
      }
    }
  ],
  "resolve": {"axis": {"x": "independent", "y": "independent"}}
}]},
{"spacing": 0, "resolve": {"scale": {"color": "independent"}, "legend": {"color": "independent"}}, "hconcat": [
{"width": 8, "height": 1, "data": {"values": []}, "mark": {"type": "point"}, "view": {"stroke": null}},
{
  "width": 498, "height": 258,
  "title": {"text": "Sensitivity of disp (lhcb1, order 1)"},
  "layer": [
    {
      "data": {"name": "p3"},
      "transform": [{"fold": ["a", "b", "c", "d"], "as": ["k", "v"]}, {"filter": "isValid(datum.v)"}],
      "mark": {"type": "line", "strokeWidth": 1.1, "clip": true},
      "encoding": {
        "x": {"field": "s", "type": "quantitative", "scale": {"domain": [0, 26659], "nice": false, "zero": false}, "axis": {"values": [0, 5000, 10000, 15000, 20000, 25000], "title": "s [m]"}},
        "y": {"field": "v", "type": "quantitative", "scale": {"domain": [-1.5, 1.5], "nice": false, "zero": false}, "axis": {"values": [-1.5, -1, -0.5, 0, 0.5, 1, 1.5], "title": "d Dₓ,ᵧ / d qₓ,ᵧ", "titlePadding": 11.5}},
        "color": {"field": "k", "type": "nominal", "scale": {"domain": ["a", "b", "c", "d"], "range": ["#9400D3", "#009E73", "#56B4E9", "#E69F00"]},
          "legend": {"legendX": 12, "legendY": 5.25, "symbolOffset": 115.25, "labelExpr": "datum.label == 'a' ? 'd Dₓ/d qₓ' : datum.label == 'b' ? 'd Dₓ/d qᵧ' : datum.label == 'c' ? 'd Dᵧ/d qₓ' : 'd Dᵧ/d qᵧ'"}}
      }
    },
    {
      "data": {"values": [{"s": 0, "v": 0}]},
      "mark": {"type": "point", "opacity": 0},
      "encoding": {
        "x": {"field": "s", "type": "quantitative", "scale": {"domain": [0, 26659], "nice": false, "zero": false}, "axis": {"orient": "top", "values": [0, 5000, 10000, 15000, 20000, 25000], "labels": false, "title": null, "grid": false}},
        "y": {"field": "v", "type": "quantitative", "scale": {"domain": [-1.5, 1.5], "nice": false, "zero": false}, "axis": {"orient": "right", "values": [-1.5, -1, -0.5, 0, 0.5, 1, 1.5], "labels": false, "title": null, "grid": false}}
      }
    }
  ],
  "resolve": {"axis": {"x": "independent", "y": "independent"}}
}]},
{"spacing": 0, "resolve": {"scale": {"color": "independent"}, "legend": {"color": "independent"}}, "hconcat": [
{"width": 8, "height": 1, "data": {"values": []}, "mark": {"type": "point"}, "view": {"stroke": null}},
{
  "width": 498, "height": 258,
  "title": {"text": "Sensitivity of mu (lhcb1, order 1)"},
  "layer": [
    {
      "data": {"name": "p4"},
      "transform": [{"fold": ["a", "b", "c", "d"], "as": ["k", "v"]}, {"filter": "isValid(datum.v)"}],
      "mark": {"type": "line", "strokeWidth": 1.1, "clip": true},
      "encoding": {
        "x": {"field": "s", "type": "quantitative", "scale": {"domain": [0, 26659], "nice": false, "zero": false}, "axis": {"values": [0, 5000, 10000, 15000, 20000, 25000], "title": "s [m]"}},
        "y": {"field": "v", "type": "quantitative", "scale": {"domain": [-0.2, 1.2], "nice": false, "zero": false}, "axis": {"values": [-0.2, 0, 0.2, 0.4, 0.6, 0.8, 1, 1.2], "title": "d μₓ,ᵧ / d qₓ,ᵧ", "titlePadding": 11.5}},
        "color": {"field": "k", "type": "nominal", "scale": {"domain": ["a", "b", "c", "d"], "range": ["#9400D3", "#009E73", "#56B4E9", "#E69F00"]},
          "legend": {"legendX": 25, "legendY": 5.5, "symbolOffset": 111.85, "labelExpr": "datum.label == 'a' ? 'd μₓ/d qₓ' : datum.label == 'b' ? 'd μₓ/d qᵧ' : datum.label == 'c' ? 'd μᵧ/d qₓ' : 'd μᵧ/d qᵧ'"}}
      }
    },
    {
      "data": {"values": [{"s": 0, "v": 0}]},
      "mark": {"type": "point", "opacity": 0},
      "encoding": {
        "x": {"field": "s", "type": "quantitative", "scale": {"domain": [0, 26659], "nice": false, "zero": false}, "axis": {"orient": "top", "values": [0, 5000, 10000, 15000, 20000, 25000], "labels": false, "title": null, "grid": false}},
        "y": {"field": "v", "type": "quantitative", "scale": {"domain": [-0.2, 1.2], "nice": false, "zero": false}, "axis": {"orient": "right", "values": [-0.2, 0, 0.2, 0.4, 0.6, 0.8, 1, 1.2], "labels": false, "title": null, "grid": false}}
      }
    }
  ],
  "resolve": {"axis": {"x": "independent", "y": "independent"}}
}]}
],
"resolve": {"scale": {"color": "independent"}}
}
